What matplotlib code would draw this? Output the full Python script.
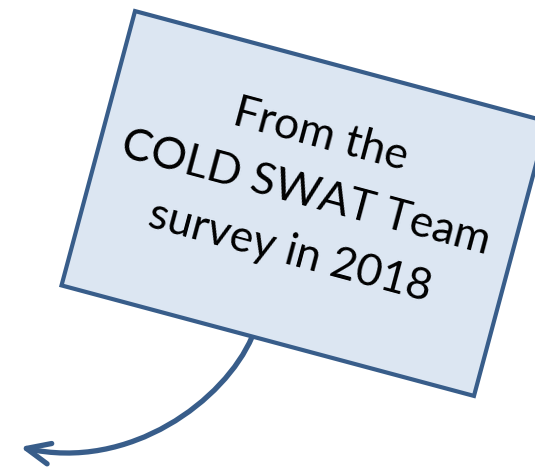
import numpy as np
import matplotlib
matplotlib.use("Agg")
import matplotlib.pyplot as plt
from matplotlib.patches import Polygon, FancyArrowPatch
from matplotlib.path import Path

# callout content
lines = ["From the", "COLD SWAT Team", "survey in 2018"]

# box placement (pixel space, y down)
box_center = (304.5, 203.5)
box_w, box_h = 427, 284
box_angle = 15  # degrees, clockwise on screen

edge_col = "#385D8A"
fill_col = "#DCE6F2"

# curved pointer from box bottom toward lower left
arrow_pts = [(252, 337), (225, 400), (130, 472), (20, 447)]

fig = plt.figure(figsize=(5.35, 4.69), dpi=100)
ax = fig.add_axes([0, 0, 1, 1])
ax.set_xlim(0, 535)
ax.set_ylim(469, 0)
ax.axis("off")

a = np.radians(box_angle)
u = np.array([np.cos(a), np.sin(a)])
v = np.array([-np.sin(a), np.cos(a)])
c = np.array(box_center)
corners = [c - box_w/2*u - box_h/2*v, c + box_w/2*u - box_h/2*v,
           c + box_w/2*u + box_h/2*v, c - box_w/2*u + box_h/2*v]
ax.add_patch(Polygon(corners, closed=True, facecolor=fill_col, edgecolor=edge_col,
                     linewidth=3, joinstyle="miter", zorder=2))

path = Path(arrow_pts, [Path.MOVETO, Path.CURVE4, Path.CURVE4, Path.CURVE4])
arr = FancyArrowPatch(path=path, arrowstyle="->,head_length=17,head_width=7.5",
                      color=edge_col, linewidth=3.8, capstyle="round", zorder=1)
ax.add_patch(arr)

ax.text(c[0] + 1, c[1] - 10, "\n".join(lines), rotation=-box_angle, rotation_mode="anchor",
        ha="center", va="center", multialignment="center", fontsize=32,
        family="Lato", linespacing=1.58, zorder=3)

fig.savefig("out.png", dpi=100)
